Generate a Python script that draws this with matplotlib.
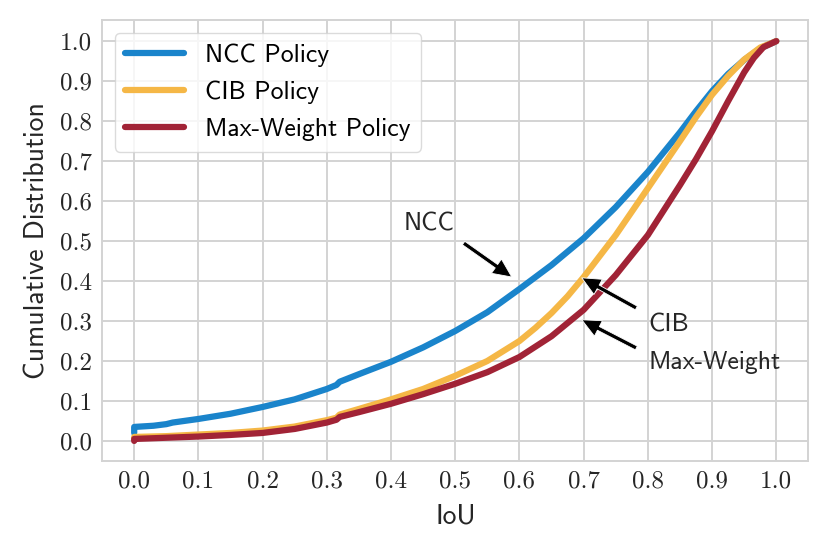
import numpy as np
import matplotlib
matplotlib.use('Agg')
import matplotlib.pyplot as plt

# CDF points (IoU, cumulative fraction)
ncc_x = [0.0, 0.0, 0.03, 0.05, 0.06, 0.1, 0.15, 0.2, 0.25, 0.3, 0.315, 0.32, 0.35, 0.4, 0.45,
         0.5, 0.55, 0.6, 0.65, 0.7, 0.75, 0.8, 0.85, 0.875, 0.9, 0.925, 0.95, 0.975, 1.0]
ncc_y = [0.02, 0.035, 0.038, 0.042, 0.046, 0.055, 0.068, 0.085, 0.104, 0.13, 0.14, 0.148, 0.167, 0.198, 0.234,
         0.275, 0.322, 0.38, 0.44, 0.507, 0.585, 0.673, 0.772, 0.825, 0.875, 0.918, 0.953, 0.982, 1.0]

cib_x = [0.0, 0.0, 0.05, 0.1, 0.15, 0.2, 0.25, 0.3, 0.315, 0.32, 0.35, 0.4, 0.45, 0.5, 0.55,
         0.6, 0.625, 0.65, 0.675, 0.7, 0.75, 0.8, 0.85, 0.875, 0.9, 0.925, 0.95, 0.975, 1.0]
cib_y = [0.005, 0.01, 0.012, 0.016, 0.02, 0.026, 0.036, 0.052, 0.058, 0.066, 0.08, 0.104, 0.13, 0.163, 0.2,
         0.25, 0.283, 0.32, 0.362, 0.41, 0.515, 0.632, 0.75, 0.81, 0.866, 0.913, 0.954, 0.984, 1.0]

mw_x = [0.0, 0.0, 0.05, 0.1, 0.15, 0.2, 0.25, 0.3, 0.315, 0.32, 0.35, 0.4, 0.45, 0.5, 0.55,
        0.6, 0.65, 0.7, 0.75, 0.8, 0.85, 0.875, 0.9, 0.925, 0.95, 0.965, 0.98, 1.0]
mw_y = [0.0, 0.005, 0.008, 0.011, 0.015, 0.02, 0.03, 0.046, 0.053, 0.06, 0.072, 0.093, 0.117, 0.143, 0.172,
        0.21, 0.262, 0.328, 0.415, 0.515, 0.64, 0.705, 0.775, 0.85, 0.922, 0.958, 0.985, 1.0]

labels = ['NCC Policy', 'CIB Policy', 'Max-Weight Policy']
colors = ['#1a84cb', '#f5b746', '#a12336']

ticks = np.round(np.arange(0, 1.01, 0.1), 1)

fig = plt.figure(figsize=(8.3, 5.54), dpi=100)
ax = fig.add_axes([0.123, 0.168, 0.851, 0.796])

for xs, ys, lab, col in zip([ncc_x, cib_x, mw_x], [ncc_y, cib_y, mw_y], labels, colors):
    ax.plot(xs, ys, color=col, lw=4.5, label=lab, solid_capstyle='round', solid_joinstyle='round')

ax.set_xlim(-0.05, 1.05)
ax.set_ylim(-0.05, 1.053)
ax.set_xticks(ticks)
ax.set_yticks(ticks)
ax.set_xticklabels([f'{t:.1f}' for t in ticks], fontfamily='cmr10', fontsize=18)
ax.set_yticklabels([f'{t:.1f}' for t in ticks], fontfamily='cmr10', fontsize=18)
ax.tick_params(length=0, pad=7, colors='#262626')

ax.grid(True, color='#d3d3d3', lw=1.4)
ax.set_axisbelow(True)
for s in ax.spines.values():
    s.set_color('#d3d3d3')
    s.set_linewidth(1.4)

ax.set_xlabel('IoU', fontfamily='cmss10', fontsize=20, color='#262626', labelpad=8)
ax.set_ylabel('Cumulative Distribution', fontfamily='cmss10', fontsize=20, color='#262626', labelpad=8)

leg = ax.legend(loc='upper left', prop={'family': 'cmss10', 'size': 18.5}, handlelength=2.3,
                labelspacing=0.55, borderaxespad=0.5, framealpha=0.8, edgecolor='#d3d3d3')
for line in leg.get_lines():
    line.set_linewidth(4.5)

# annotations
arrow = dict(facecolor='black', edgecolor='white', lw=0.6, width=3.0, headwidth=12.5, headlength=13.5, shrink=0)
ax.text(0.42, 0.5425, 'NCC', fontfamily='cmss10', fontsize=18.5, va='center', ha='left', color='#262626')
ax.annotate('', xy=(0.588, 0.41), xytext=(0.513, 0.495), arrowprops=arrow)
ax.text(0.801, 0.29, 'CIB', fontfamily='cmss10', fontsize=18.5, va='center', ha='left', color='#262626')
ax.annotate('', xy=(0.697, 0.408), xytext=(0.782, 0.3325), arrowprops=arrow)
ax.text(0.801, 0.195, 'Max-Weight', fontfamily='cmss10', fontsize=18.5, va='center', ha='left', color='#262626')
ax.annotate('', xy=(0.697, 0.303), xytext=(0.782, 0.2325), arrowprops=arrow)

fig.savefig('out.png', dpi=100)
